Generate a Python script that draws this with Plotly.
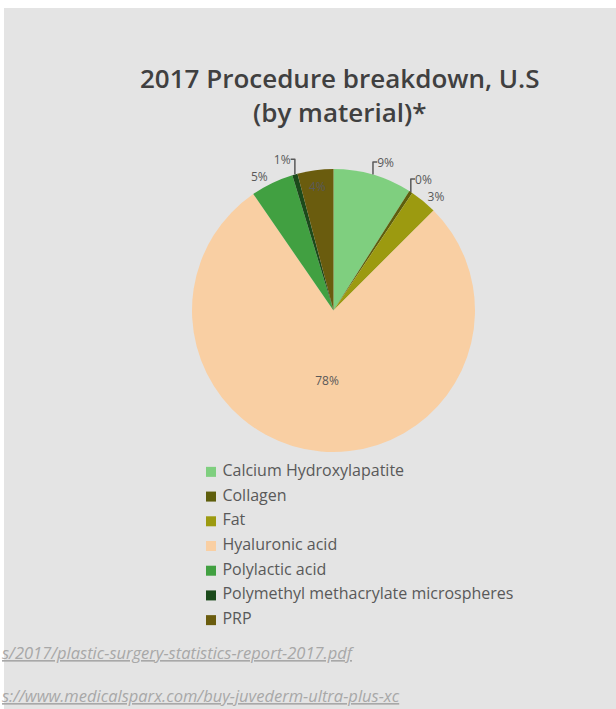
import plotly.graph_objects as go

W, H = 616, 709

materials = ["Calcium Hydroxylapatite", "Collagen", "Fat", "Hyaluronic acid",
             "Polylactic acid", "Polymethyl methacrylate microspheres", "PRP"]
shares = [9.0, 0.4, 3.1, 77.9, 4.9, 0.6, 4.1]
colors = ["#7fcf7f", "#5e5e0c", "#9c9a10", "#f9cfa3", "#41a041", "#1b4a1b", "#6a5c0e"]
text_pos = ["outside", "outside", "outside", "inside", "outside", "outside", "inside"]

title_text = "2017 Procedure breakdown, U.S<br>(by material)*"
source_lines = ["s/2017/plastic-surgery-statistics-report-2017.pdf",
                "s://www.medicalsparx.com/buy-juvederm-ultra-plus-xc"]

def px(x):
    return x / W

def py(y):
    return 1 - y / H

fig = go.Figure()
fig.add_trace(go.Pie(
    labels=materials,
    values=shares,
    sort=False,
    direction="clockwise",
    rotation=0,
    marker=dict(colors=colors, line=dict(width=0)),
    texttemplate="%{percent:.0%}",
    textposition=text_pos,
    insidetextorientation="horizontal",
    textfont=dict(family="Open Sans", size=12, color="#595959"),
    domain=dict(x=[px(192), px(475)], y=[py(452), py(169)]),
    hoverinfo="label+percent",
    showlegend=False,
))

# legend drawn as a categorical scatter so spacing matches the reference
fig.add_trace(go.Scatter(
    x=[0] * len(materials),
    y=materials,
    mode="markers+text",
    marker=dict(symbol="square", size=10, color=colors),
    text=[" " + m for m in materials],
    textposition="middle right",
    textfont=dict(family="Open Sans", size=16, color="#595959"),
    hoverinfo="skip",
    showlegend=False,
    xaxis="x", yaxis="y",
    cliponaxis=False,
))

fig.add_shape(type="rect", xref="paper", yref="paper", x0=0, x1=1, y0=py(8), y1=1,
              fillcolor="white", line=dict(width=0), layer="below")
fig.add_shape(type="rect", xref="paper", yref="paper", x0=0, x1=px(4), y0=0, y1=1,
              fillcolor="white", line=dict(width=0), layer="below")

fig.add_annotation(text=title_text, xref="paper", yref="paper", x=px(340), y=py(95),
                   showarrow=False,
                   font=dict(family="Open Sans", size=26, color="#404040", weight=600),
                   xanchor="center", yanchor="middle")

for i, s in enumerate(source_lines):
    fig.add_annotation(text="<i><u>" + s + "</u></i>", xref="paper", yref="paper",
                       x=px(0), y=py(652 + 43 * i), showarrow=False, xanchor="left",
                       yanchor="middle",
                       font=dict(family="Open Sans", size=16.5, color="#a8a8a8"))

fig.update_layout(
    width=W, height=H,
    margin=dict(l=0, r=0, t=0, b=0),
    paper_bgcolor="#e4e4e4",
    plot_bgcolor="rgba(0,0,0,0)",
    showlegend=False,
    xaxis=dict(domain=[px(206), px(600)], range=[-5, 389], visible=False, fixedrange=True),
    yaxis=dict(domain=[py(632.5), py(459.5)], type="category",
               categoryorder="array", categoryarray=materials,
               range=[len(materials) - 0.5, -0.5], visible=False, fixedrange=True),
)

fig.write_html("out.html", config={"displayModeBar": False},
               post_script="document.body.style.margin='0';")
